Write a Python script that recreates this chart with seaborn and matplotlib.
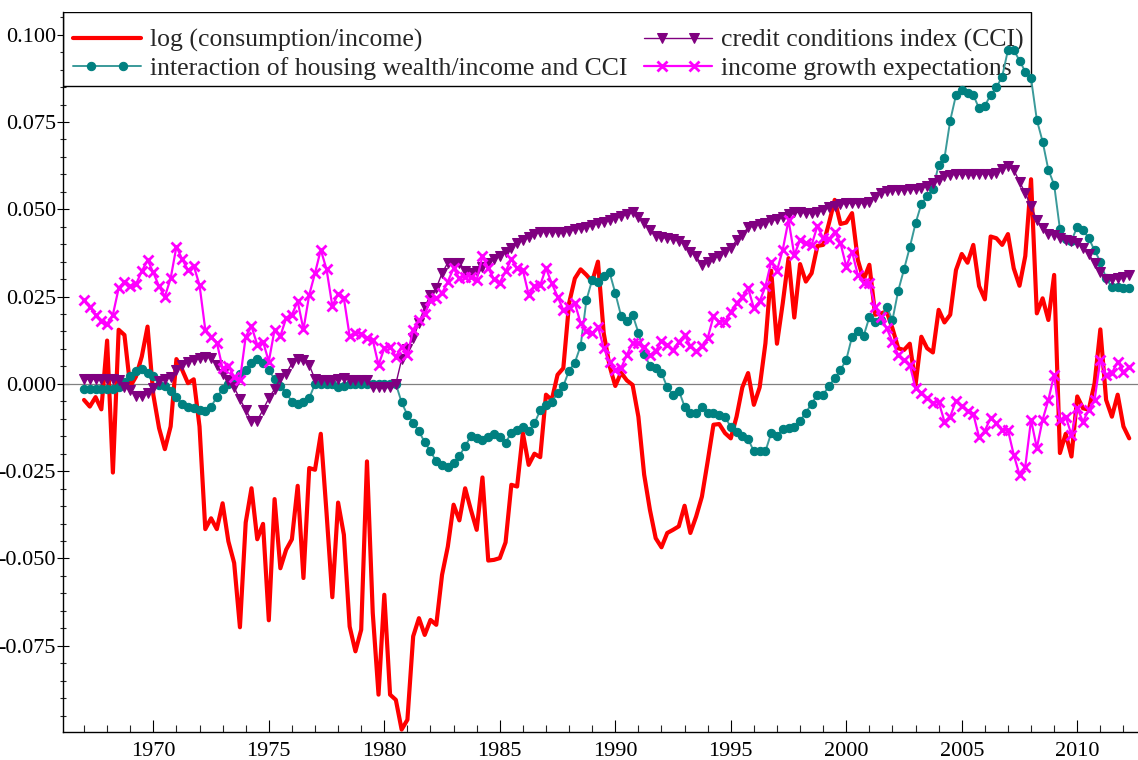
import numpy as np
import pandas as pd
import matplotlib
matplotlib.use("Agg")
import matplotlib.pyplot as plt
from matplotlib.ticker import MultipleLocator, FormatStrFormatter
from matplotlib.lines import Line2D
from matplotlib.patches import Rectangle
from matplotlib.legend_handler import HandlerLine2DCompound
import seaborn as sns

# Quarterly data, 1967Q1 .. 2012Q2 (values in thousandths)
start_year = 1967
log_cons_income = [
    -4.6, -6.5, -3.8, -7.3, 12.4, -25.4, 15.5, 14.0, -0.8, 2.1, 7.8, 16.4, -3.1, -12.7, -18.7, -12.2,
    7.1, 4.0, 0.2, 1.3, -12.2, -41.6, -38.5, -41.6, -34.2, -45.1, -51.3, -69.7, -39.7, -29.9, -44.5, -40.1,
    -67.7, -33.0, -52.8, -47.5, -44.5, -29.2, -55.6, -24.1, -24.6, -14.3, -37.0, -61.1, -34.0, -43.2, -69.5, -76.6,
    -70.4, -22.2, -65.6, -89.0, -60.4, -89.0, -90.5, -99.0, -96.2, -72.3, -67.1, -71.9, -67.6, -69.0, -54.7, -46.6,
    -34.6, -39.1, -29.9, -36.1, -41.8, -26.8, -50.6, -50.4, -49.9, -45.4, -28.9, -29.4, -14.1, -23.2, -20.0, -21.0,
    -3.1, -4.6, 2.6, 4.5, 23.1, 30.2, 32.8, 31.2, 29.3, 35.0, 14.5, 5.2, -0.6, 3.2, 1.0, -0.3,
    -9.4, -26.0, -36.1, -44.2, -46.8, -42.7, -41.8, -40.8, -34.9, -42.7, -38.0, -32.3, -22.2, -11.7, -11.5, -14.1,
    -15.6, -9.4, -1.0, 3.1, -6.0, -1.0, 11.6, 32.4, 11.5, 23.1, 36.0, 19.0, 34.3, 29.3, 31.7, 39.5,
    39.8, 46.0, 52.7, 45.8, 46.2, 48.9, 35.5, 29.8, 34.1, 19.8, 20.2, 20.7, 15.9, 10.2, 9.7, 11.5,
    -0.3, 13.5, 10.2, 9.0, 21.2, 17.6, 19.8, 32.6, 37.2, 34.7, 39.8, 28.0, 24.2, 42.2, 41.7, 39.8,
    42.9, 33.1, 28.1, 36.6, 58.6, 20.2, 24.5, 18.3, 31.2, -19.8, -14.3, -20.8, -3.6, -7.0, -7.4, 0.2,
    15.6, -4.6, -9.4, -3.1, -12.2, -15.6,
]
housing_cci = [
    -1.5, -1.5, -1.5, -1.5, -1.5, -1.5, -1.0, 0.4, 2.3, 3.8, 4.2, 3.2, 2.3, -0.3, -0.6, -1.9,
    -3.8, -5.7, -6.7, -7.0, -7.4, -7.9, -6.5, -3.8, -1.5, 0.0, 1.3, 2.9, 4.0, 5.9, 7.2, 6.1,
    4.0, 1.3, -0.6, -2.5, -5.1, -5.7, -5.3, -4.1, 0.0, 0.0, 0.0, 0.0, -0.8, -0.6, 0.0, 0.0,
    0.0, 0.0, 0.0, 0.0, 0.0, 0.0, 0.0, -5.3, -8.9, -11.1, -13.6, -16.7, -19.3, -22.2, -23.2, -23.7,
    -22.7, -20.6, -17.9, -14.9, -15.6, -16.2, -15.1, -14.3, -15.1, -16.8, -14.1, -13.2, -12.4, -13.6, -11.3, -7.6,
    -6.0, -5.1, -2.7, -0.6, 3.8, 6.1, 10.9, 24.0, 29.8, 29.3, 30.9, 32.0, 26.0, 19.5, 18.1, 19.8,
    14.7, 8.6, 5.2, 4.5, 3.2, -1.0, -3.1, -1.9, -6.5, -8.4, -8.4, -6.7, -8.2, -8.2, -8.9, -9.4,
    -12.4, -13.9, -14.9, -15.8, -19.3, -19.3, -19.3, -14.1, -14.9, -13.0, -12.7, -12.4, -10.6, -8.2, -5.7, -3.1,
    -3.1, -0.6, 1.6, 4.0, 6.9, 13.5, 15.0, 13.7, 19.1, 17.8, 18.3, 22.1, 18.3, 26.7, 32.8, 39.1,
    46.0, 51.5, 53.8, 55.7, 62.7, 64.6, 75.4, 82.7, 84.2, 83.4, 82.7, 78.9, 79.7, 82.7, 84.9, 88.0,
    95.6, 95.6, 92.6, 89.4, 87.5, 75.6, 69.4, 61.3, 57.0, 44.3, 41.4, 41.0, 45.0, 44.1, 41.7, 38.2,
    35.0, 30.2, 27.7, 27.7, 27.4, 27.4,
]
cci = [
    1.3, 1.3, 1.3, 1.3, 1.3, 1.3, 1.1, -0.8, -1.7, -3.4, -3.6, -2.5, -1.2, 0.9, 1.3, 2.1,
    4.0, 5.4, 6.4, 6.9, 7.3, 7.8, 7.3, 5.4, 2.9, 1.1, -1.0, -4.4, -7.4, -10.5, -10.5, -7.4,
    -4.1, -1.5, 1.6, 2.9, 5.9, 7.1, 6.7, 5.4, 1.3, 1.0, 1.0, 1.0, 1.3, 1.6, 1.0, 1.0,
    1.0, 1.0, -1.0, -1.0, -1.0, -1.0, 0.0, 7.0, 10.0, 13.0, 17.5, 22.0, 25.5, 27.4, 31.7, 34.7,
    34.7, 34.7, 32.4, 31.7, 32.2, 33.4, 34.5, 35.7, 36.6, 37.9, 38.8, 40.3, 41.2, 42.2, 42.9, 43.6,
    43.6, 43.6, 43.6, 43.6, 43.9, 44.3, 44.6, 45.0, 45.5, 46.0, 46.5, 46.9, 47.4, 48.1, 48.7, 49.3,
    47.9, 46.2, 44.1, 42.4, 42.0, 41.7, 41.4, 41.0, 39.8, 37.9, 36.5, 34.1, 35.0, 36.0, 36.6, 37.9,
    38.8, 41.2, 42.7, 44.8, 45.2, 45.8, 46.2, 46.8, 47.1, 47.9, 48.7, 49.1, 49.1, 49.0, 49.0, 49.3,
    49.8, 50.6, 51.0, 51.5, 51.7, 51.7, 51.7, 51.9, 52.2, 53.6, 54.6, 55.1, 55.5, 55.5, 55.5, 55.7,
    55.7, 56.0, 56.7, 57.4, 58.4, 59.4, 59.8, 60.1, 60.1, 60.1, 60.1, 60.1, 60.2, 60.1, 60.5, 61.5,
    62.4, 61.3, 57.9, 54.6, 50.8, 46.9, 44.6, 42.9, 42.7, 41.7, 41.2, 41.0, 40.3, 38.8, 37.2, 34.5,
    31.9, 30.0, 30.0, 30.2, 30.7, 31.2,
]
income_growth_exp = [
    24.0, 22.1, 19.6, 18.1, 17.2, 19.8, 27.4, 29.3, 27.9, 28.6, 32.2, 35.5, 31.9, 27.9, 25.0, 30.2,
    39.3, 35.7, 32.6, 33.8, 28.3, 15.5, 13.5, 11.8, 4.5, 5.0, 2.1, 1.1, 13.5, 16.5, 11.2, 12.1,
    6.4, 15.5, 13.7, 18.8, 19.8, 23.6, 15.6, 25.5, 31.7, 38.4, 32.8, 22.3, 25.8, 24.5, 13.7, 14.7,
    14.3, 13.1, 12.6, 5.4, 10.2, 10.7, 7.8, 10.7, 8.3, 15.5, 18.3, 20.0, 24.0, 24.5, 26.0, 29.3,
    33.1, 30.2, 30.7, 30.7, 29.8, 36.5, 33.1, 30.0, 29.0, 32.2, 35.7, 33.1, 32.6, 25.5, 27.9, 28.3,
    33.1, 28.8, 25.0, 21.2, 22.1, 23.1, 17.4, 15.0, 14.5, 16.4, 10.2, 6.4, 4.0, 4.5, 8.3, 11.8,
    11.6, 10.7, 8.3, 9.3, 12.4, 11.2, 9.7, 12.1, 14.0, 10.9, 9.3, 10.9, 13.1, 19.3, 17.8, 17.8,
    20.7, 23.1, 25.0, 27.4, 21.7, 23.6, 27.9, 35.0, 32.4, 38.4, 46.9, 36.9, 41.2, 40.3, 39.8, 45.2,
    41.7, 41.4, 43.6, 40.3, 33.6, 37.9, 31.2, 28.8, 28.8, 22.1, 19.1, 15.9, 12.1, 8.3, 6.9, 5.4,
    -1.2, -2.7, -4.1, -5.5, -5.1, -10.8, -9.4, -4.8, -6.3, -7.9, -8.6, -15.3, -13.4, -9.8, -11.3, -13.2,
    -13.2, -20.3, -26.0, -23.7, -10.3, -18.4, -10.3, -4.6, 2.6, -10.3, -9.4, -14.6, -7.0, -10.8, -7.4, -4.6,
    6.9, 2.6, 3.1, 6.4, 3.5, 4.8,
]
labels = [
    "log (consumption/income)",
    "interaction of housing wealth/income and CCI",
    "credit conditions index (CCI)",
    "income growth expectations",
]
x_ticks = [1970, 1975, 1980, 1985, 1990, 1995, 2000, 2005, 2010]
y_ticks = [-0.075, -0.050, -0.025, 0.000, 0.025, 0.050, 0.075, 0.100]

n = len(log_cons_income)
assert all(len(s) == n for s in (housing_cci, cci, income_growth_exp))
periods = pd.period_range(f"{start_year}Q1", periods=n, freq="Q")
years = np.array([p.year + (p.quarter - 1) / 4 for p in periods])

df = pd.DataFrame({
    "year": years,
    "red": np.array(log_cons_income) / 1000,
    "teal": np.array(housing_cci) / 1000,
    "purple": np.array(cci) / 1000,
    "magenta": np.array(income_growth_exp) / 1000,
})

sns.set_style("ticks")
plt.rcParams["font.family"] = ["Liberation Serif", "DejaVu Serif"]

W, H = 1138, 760
fig = plt.figure(figsize=(W / 100, H / 100), dpi=100)
ax = fig.add_axes([63 / W, 1 - 732 / H, 1 - 63 / W, 720 / H])

ax.axhline(0, color="#808080", lw=0.9, zorder=1)

sns.lineplot(data=df, x="year", y="red", ax=ax, color="#ff0000", lw=3.0,
             label=labels[0], estimator=None, zorder=3)
sns.lineplot(data=df, x="year", y="teal", ax=ax, color="#3a9a9a", lw=1.4,
             marker="o", markersize=6, markerfacecolor="#008080", markeredgecolor="#008080",
             label=labels[1], estimator=None, zorder=4)
sns.lineplot(data=df, x="year", y="purple", ax=ax, color="#800080", lw=1.0,
             marker="v", markersize=6.5, markerfacecolor="#800080", markeredgecolor="#800080",
             label=labels[2], estimator=None, zorder=4)
sns.lineplot(data=df, x="year", y="magenta", ax=ax, color="#ff00ff", lw=1.6,
             marker="x", markersize=7, markeredgewidth=2.0, markeredgecolor="#ff00ff",
             label=labels[3], estimator=None, zorder=5)

ax.set_xlim(1966.09, 2012.63)
ax.set_ylim(-0.0997, 0.1065)
ax.set_xticks(x_ticks)
ax.set_yticks(y_ticks)
ax.xaxis.set_minor_locator(MultipleLocator(1))
ax.yaxis.set_minor_locator(MultipleLocator(0.005))
ax.yaxis.set_major_formatter(FormatStrFormatter("%.3f"))
ax.set_xlabel("")
ax.set_ylabel("")

for s in ("top", "right"):
    ax.spines[s].set_visible(False)
for s in ("left", "bottom"):
    ax.spines[s].set_color("black")
    ax.spines[s].set_linewidth(1.0)

ax.tick_params(axis="both", which="major", labelsize=16, colors="black", width=0.8)
ax.tick_params(axis="x", which="major", direction="in", length=9, pad=7)
ax.tick_params(axis="x", which="minor", direction="in", length=5, width=0.8)
ax.tick_params(axis="y", which="major", direction="inout", length=9, pad=0.5)
ax.tick_params(axis="y", which="minor", direction="inout", length=5, width=0.8)


class FullLineInsetMarkers(HandlerLine2DCompound):
    """Legend handle: line spans the full handle, two markers inset from the ends."""
    def get_xdata(self, legend, xdescent, ydescent, width, height, fontsize):
        pad = 0.7 * fontsize
        xline = np.array([-xdescent, -xdescent + width])
        xmark = np.array([-xdescent + pad, -xdescent + width - pad])
        return xline, xmark


# legend box drawn separately (white, black edge), beneath the data lines
box = Rectangle((63 / W, 1 - 86 / H), (1031 - 63) / W, (86 - 12) / H,
                transform=fig.transFigure, facecolor="white", edgecolor="black",
                lw=1.0, zorder=2)
ax.add_patch(box)

leg = ax.legend(loc="upper left", bbox_to_anchor=(73 / W, 1 - 29 / H),
                bbox_transform=fig.transFigure, ncol=2, fontsize=18.5, frameon=False,
                borderaxespad=0.0, borderpad=0.0,
                handlelength=2.65, handletextpad=0.35, columnspacing=0.65,
                labelspacing=0.18,
                handler_map={Line2D: FullLineInsetMarkers()})
leg.set_zorder(2.5)

fig.savefig("out.png", dpi=100, facecolor="white")
